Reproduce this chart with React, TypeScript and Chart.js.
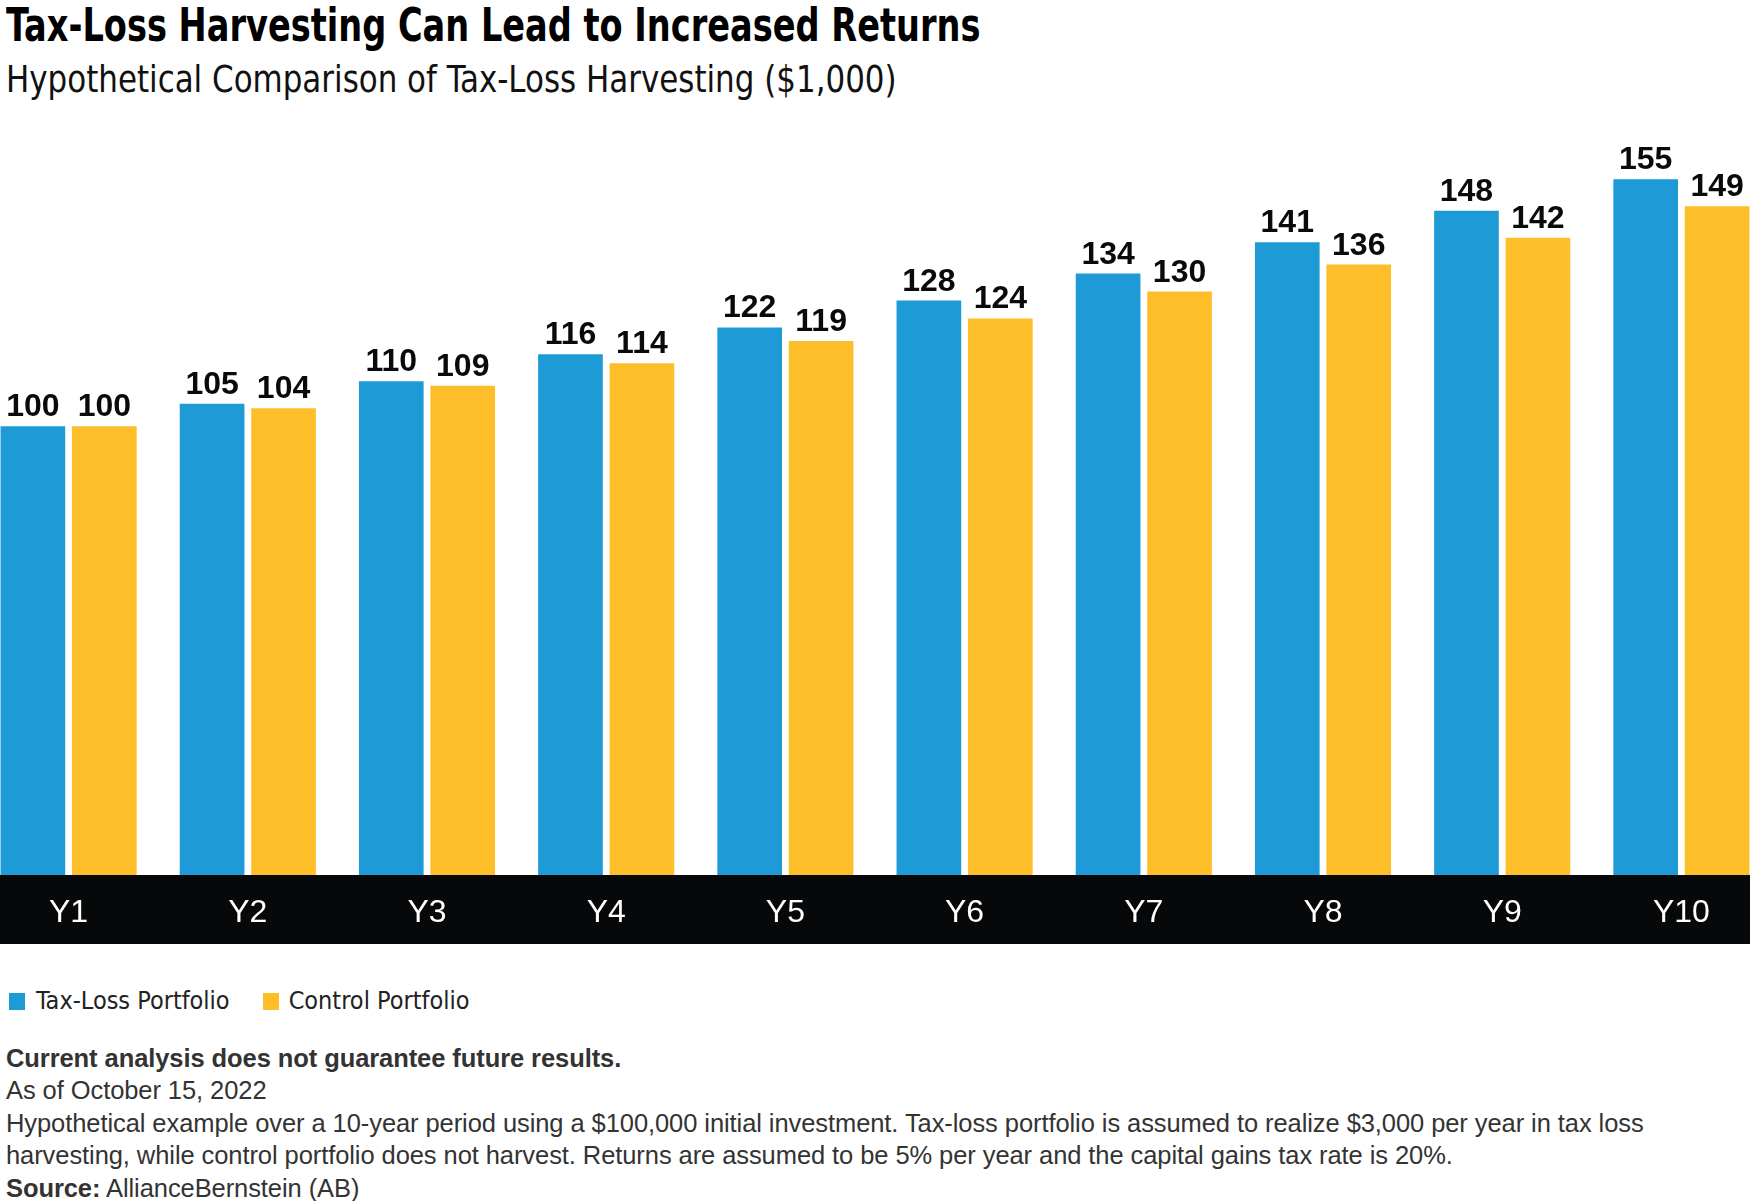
import React, { useEffect, useRef } from "react";
import { Chart, registerables } from "chart.js";

Chart.register(...registerables);

const categories = ["Y1", "Y2", "Y3", "Y4", "Y5", "Y6", "Y7", "Y8", "Y9", "Y10"];
const taxLossValues = [100, 105, 110, 116, 122, 128, 134, 141, 148, 155];
const controlValues = [100, 104, 109, 114, 119, 124, 130, 136, 142, 149];
const seriesNames = ["Tax-Loss Portfolio", "Control Portfolio"];

const BLUE = "#1E9BD7";
const YELLOW = "#FDBE2A";
const BAND = "#07080A";
const NARROW = '"Liberation Sans Narrow", "DejaVu Sans Condensed", "Liberation Sans", sans-serif';
const SANS = '"Liberation Sans", Arial, sans-serif';

const bandPlugin = {
  id: "band",
  beforeDraw(chart: any) {
    const { ctx, chartArea } = chart;
    ctx.save();
    ctx.fillStyle = BAND;
    ctx.fillRect(0, chartArea.bottom, chart.width, chart.height - chartArea.bottom);
    ctx.restore();
  },
};

const valueLabelPlugin = {
  id: "valueLabels",
  afterDatasetsDraw(chart: any) {
    const { ctx } = chart;
    ctx.save();
    ctx.font = `bold 32px ${SANS}`;
    ctx.fillStyle = "#0a0a0a";
    ctx.textAlign = "center";
    ctx.textBaseline = "alphabetic";
    chart.data.datasets.forEach((ds: any, di: number) => {
      const meta = chart.getDatasetMeta(di);
      meta.data.forEach((bar: any, i: number) => {
        ctx.fillText(String(ds.data[i]), bar.x, bar.y - 10);
      });
    });
    ctx.restore();
  },
};

export default function App() {
  const canvasRef = useRef<HTMLCanvasElement | null>(null);

  useEffect(() => {
    document.body.style.margin = "0";
    document.body.style.background = "#ffffff";
    const canvas = canvasRef.current;
    if (!canvas) return;
    const chart = new Chart(canvas, {
      type: "bar",
      data: {
        labels: categories,
        datasets: [
          {
            label: seriesNames[0],
            data: taxLossValues,
            backgroundColor: BLUE,
            borderWidth: 0,
            categoryPercentage: 0.7975,
            barPercentage: 0.905,
          },
          {
            label: seriesNames[1],
            data: controlValues,
            backgroundColor: YELLOW,
            borderWidth: 0,
            categoryPercentage: 0.7975,
            barPercentage: 0.905,
          },
        ],
      },
      options: {
        animation: false,
        responsive: false,
        devicePixelRatio: 1,
        layout: { padding: 0 },
        plugins: {
          legend: { display: false },
          tooltip: { enabled: false },
          title: { display: false },
        },
        scales: {
          x: {
            grid: { display: false, drawTicks: false },
            border: { display: false },
            ticks: {
              color: "#ffffff",
              font: { family: SANS, size: 32 },
              padding: 19,
              maxRotation: 0,
            },
            afterFit: (scale: any) => {
              scale.height = 69;
            },
          },
          y: {
            display: false,
            min: 0,
            max: 170,
            grid: { display: false },
          },
        },
      },
      plugins: [bandPlugin, valueLabelPlugin],
    });
    return () => chart.destroy();
  }, []);

  const footStyle: React.CSSProperties = {
    position: "absolute",
    left: 6,
    fontFamily: SANS,
    fontSize: 25.5,
    lineHeight: "32.5px",
    color: "#333333",
    letterSpacing: "-0.08px",
    whiteSpace: "nowrap",
    margin: 0,
  };

  return (
    <div style={{ position: "relative", width: 1750, height: 1201, overflow: "hidden", background: "#fff" }}>
      <div
        style={{
          position: "absolute",
          left: 6,
          top: 2,
          fontFamily: NARROW,
          fontWeight: "bold",
          fontSize: 46,
          lineHeight: "46px",
          color: "#000",
          whiteSpace: "nowrap",
          transform: "scaleX(0.812)",
          transformOrigin: "0 0",
        }}
      >
        Tax-Loss Harvesting Can Lead to Increased Returns
      </div>
      <div
        style={{
          position: "absolute",
          left: 6,
          top: 60,
          fontFamily: NARROW,
          fontSize: 38,
          lineHeight: "38px",
          color: "#111",
          whiteSpace: "nowrap",
          transform: "scaleX(0.905)",
          transformOrigin: "0 0",
        }}
      >
        Hypothetical Comparison of Tax-Loss Harvesting ($1,000)
      </div>
      <canvas
        ref={canvasRef}
        width={1792}
        height={832}
        style={{ position: "absolute", left: -21, top: 112, width: 1792, height: 832 }}
      />
      <div style={{ position: "absolute", top: 988, left: 9, display: "flex", alignItems: "center", fontFamily: NARROW, fontSize: 25, lineHeight: "26px", color: "#222" }}>
        <span style={{ display: "inline-block", width: 16, height: 17, background: BLUE, marginRight: 11 }} />
        <span style={{ marginRight: 33 }}>{seriesNames[0]}</span>
        <span style={{ display: "inline-block", width: 16, height: 17, background: YELLOW, marginRight: 10 }} />
        <span>{seriesNames[1]}</span>
      </div>
      <div style={{ ...footStyle, top: 1041.5, fontWeight: "bold" }}>Current analysis does not guarantee future results.</div>
      <div style={{ ...footStyle, top: 1074 }}>As of October 15, 2022</div>
      <div style={{ ...footStyle, top: 1106.5 }}>
        Hypothetical example over a 10-year period using a $100,000 initial investment. Tax-loss portfolio is assumed to realize $3,000 per year in tax loss
      </div>
      <div style={{ ...footStyle, top: 1139 }}>
        harvesting, while control portfolio does not harvest. Returns are assumed to be 5% per year and the capital gains tax rate is 20%.
      </div>
      <div style={{ ...footStyle, top: 1171.5 }}>
        <b>Source:</b> AllianceBernstein (AB)
      </div>
    </div>
  );
}
